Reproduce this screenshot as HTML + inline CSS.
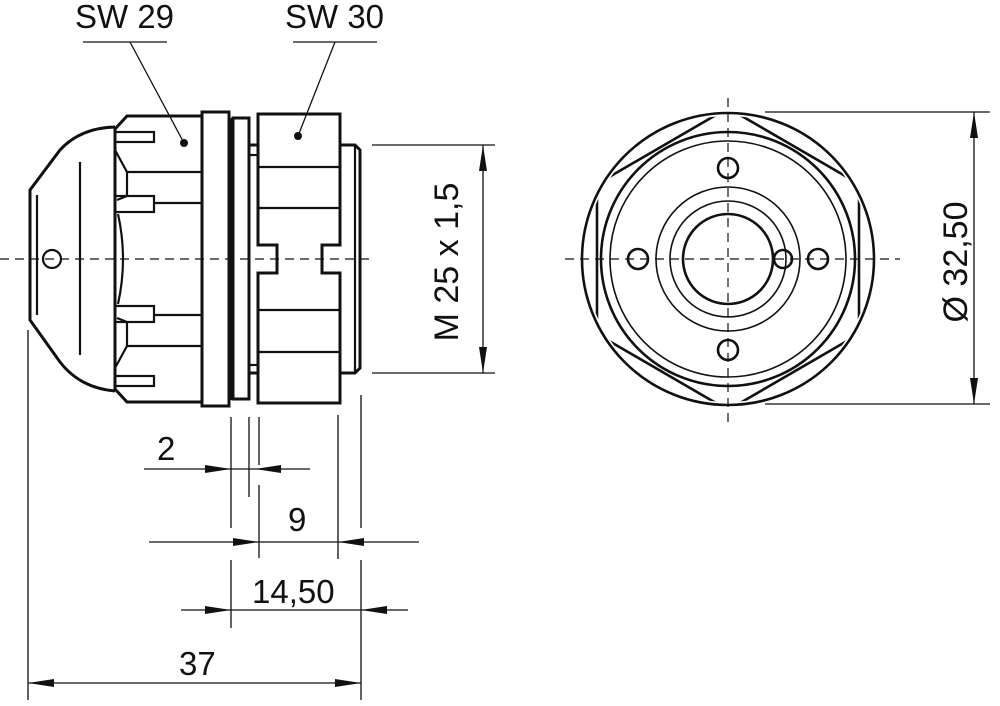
<!DOCTYPE html>
<html><head><meta charset="utf-8"><style>html,body{margin:0;padding:0;background:#fff}svg{display:block}</style></head>
<body>
<svg width="1000" height="706" viewBox="0 0 1000 706" xmlns="http://www.w3.org/2000/svg" font-family="Liberation Sans, sans-serif" fill="none" stroke="#111">
<defs>
<marker id="a" viewBox="0 0 26 8" refX="26" refY="4" markerWidth="26" markerHeight="8" markerUnits="userSpaceOnUse" orient="auto"><path d="M0,0 L26,4 L0,8 z" fill="#111" stroke="none"/></marker>
</defs>
<!-- centerlines -->
<g stroke-width="1.2" stroke-dasharray="9,6">
<line x1="0" y1="259" x2="375" y2="259"/>
<line x1="565" y1="259" x2="900" y2="259"/>
<line x1="728" y1="98" x2="728" y2="422"/>
</g>
<!-- left view -->
<g stroke-width="3" stroke-linejoin="miter">
<path d="M115,127 Q80,128 60,150 L30,190 L30,320 L60,362 Q80,388 115,391"/>
<path d="M127,116 L202,116 L202,402 L127,402 L115,389 L115,129 Z"/>
<rect x="202" y="112" width="27" height="294"/>
<line x1="231" y1="118" x2="231" y2="400"/>
<rect x="233" y="118" width="16" height="281"/>
<line x1="249" y1="145" x2="258" y2="145"/>
<line x1="249" y1="373" x2="258" y2="373"/>
<path d="M258,114 L340,114 L340,245 L322,245 L322,273 L340,273 L340,403 L258,403 L258,273 L277,273 L277,245 L258,245 Z"/>
<path d="M340,145 L355,145 L360,150 L360,368 L355,373 L340,373"/>
</g>
<g stroke-width="2.2">
<line x1="37" y1="195" x2="37" y2="315"/>
<line x1="80" y1="162" x2="80" y2="355"/>
<line x1="355" y1="145" x2="355" y2="373"/>
<rect x="115" y="132" width="39" height="10"/>
<rect x="115" y="196" width="39" height="16"/>
<rect x="115" y="306" width="39" height="16"/>
<rect x="115" y="376" width="39" height="10"/>
<path d="M115,150 L127,172 L202,172 M127,172 L127,196 L117,200"/>
<line x1="154" y1="203" x2="202" y2="203"/>
<path d="M115,368 L127,346 L202,346 M127,346 L127,322 L117,318"/>
<line x1="154" y1="315" x2="202" y2="315"/>
<path d="M118,214 Q128,259 118,304"/>
<line x1="258" y1="167" x2="340" y2="167"/>
<line x1="258" y1="208" x2="340" y2="208"/>
<line x1="258" y1="310" x2="340" y2="310"/>
<line x1="258" y1="352" x2="340" y2="352"/>
<line x1="249" y1="155" x2="258" y2="155"/>
<line x1="249" y1="365" x2="258" y2="365"/>
<circle cx="52" cy="259" r="9"/>
</g>
<circle cx="184" cy="143" r="4" fill="#111" stroke="none"/>
<circle cx="298" cy="136" r="4" fill="#111" stroke="none"/>
<!-- leaders -->
<g stroke-width="1.3">
<line x1="83" y1="42" x2="167" y2="42"/><line x1="130" y1="42" x2="184" y2="143"/>
<line x1="293" y1="42" x2="377" y2="42"/><line x1="335" y1="42" x2="298" y2="136"/>
</g>
<!-- right view -->
<g stroke-width="2.6">
<circle cx="728" cy="259" r="146"/>
<circle cx="728" cy="259" r="127"/>
<circle cx="728" cy="259" r="45"/>
<circle cx="728" cy="168" r="10"/><circle cx="728" cy="350" r="10"/>
<circle cx="638" cy="259" r="10"/><circle cx="818" cy="259" r="10"/>
<circle cx="783" cy="259" r="9"/>
</g>
<clipPath id="c"><circle cx="728" cy="259" r="143"/></clipPath>
<g stroke-width="2.6" clip-path="url(#c)">
<path d="M728,108 L859,184 L859,334 L728,410 L597,334 L597,184 Z"/>
</g>
<g stroke-width="1.6">
<circle cx="728" cy="259" r="118"/>
<circle cx="728" cy="259" r="72"/>
<circle cx="728" cy="259" r="58"/>
</g>
<!-- dimensions -->
<g stroke-width="1.3">
<line x1="28" y1="330" x2="28" y2="700"/>
<line x1="231" y1="417" x2="231" y2="528"/><line x1="231" y1="560" x2="231" y2="628"/>
<line x1="249" y1="417" x2="249" y2="497"/>
<line x1="259" y1="417" x2="259" y2="465"/><line x1="259" y1="485" x2="259" y2="558"/>
<line x1="338" y1="415" x2="338" y2="559"/>
<line x1="361" y1="395" x2="361" y2="528"/><line x1="361" y1="560" x2="361" y2="700"/>
<line x1="144" y1="469" x2="231" y2="469" marker-end="url(#a)"/>
<line x1="231" y1="469" x2="255" y2="469"/>
<line x1="310" y1="469" x2="255" y2="469" marker-end="url(#a)"/>
<line x1="149" y1="542" x2="259" y2="542" marker-end="url(#a)"/>
<line x1="259" y1="542" x2="338" y2="542"/>
<line x1="419" y1="542" x2="338" y2="542" marker-end="url(#a)"/>
<line x1="181" y1="610" x2="231" y2="610" marker-end="url(#a)"/>
<line x1="231" y1="610" x2="361" y2="610"/>
<line x1="408" y1="610" x2="361" y2="610" marker-end="url(#a)"/>
<line x1="194" y1="683" x2="28" y2="683" marker-end="url(#a)"/>
<line x1="194" y1="683" x2="361" y2="683" marker-end="url(#a)"/>
<line x1="372" y1="145" x2="495" y2="145"/><line x1="372" y1="373" x2="495" y2="373"/>
<line x1="483" y1="259" x2="483" y2="145" marker-end="url(#a)"/>
<line x1="483" y1="259" x2="483" y2="373" marker-end="url(#a)"/>
<line x1="765" y1="112" x2="990" y2="112"/><line x1="765" y1="404" x2="990" y2="404"/>
<line x1="974" y1="259" x2="974" y2="112" marker-end="url(#a)"/>
<line x1="974" y1="259" x2="974" y2="404" marker-end="url(#a)"/>
</g>
<g fill="#111" stroke="none" font-size="33">
<text x="75" y="28">SW 29</text>
<text x="285" y="28">SW 30</text>
<text x="157" y="460">2</text>
<text x="288" y="531">9</text>
<text x="252" y="603">14,50</text>
<text x="179" y="675">37</text>
<text transform="translate(458,262) rotate(-90)" text-anchor="middle" font-size="34">M 25 x 1,5</text>
<text transform="translate(967,262) rotate(-90)" text-anchor="middle" font-size="34">Ø 32,50</text>
</g>
</svg>
</body></html>
